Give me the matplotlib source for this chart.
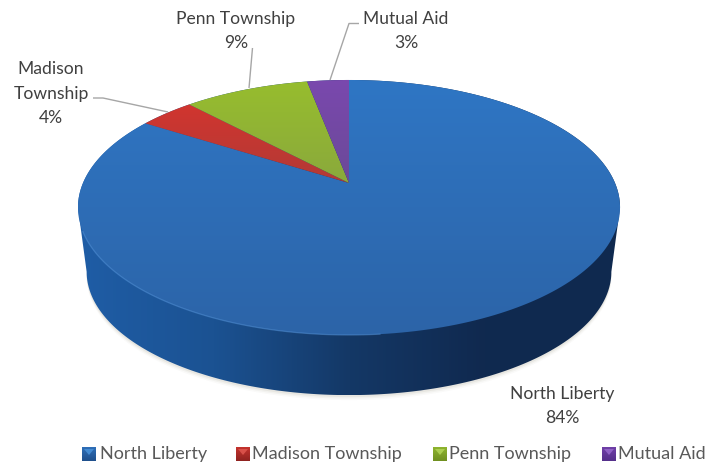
import numpy as np
import matplotlib
matplotlib.use("Agg")
import matplotlib.pyplot as plt
from matplotlib.colors import LinearSegmentedColormap
from matplotlib.patches import Polygon

categories = ["North Liberty", "Madison Township", "Penn Township", "Mutual Aid"]
shares = [84, 4, 9, 3]
percent_labels = ["84%", "4%", "9%", "3%"]
top_colors = [("#2f76c4", "#2c64a8"), ("#d1352f", "#b23a36"),
              ("#97bd2e", "#8aa93c"), ("#7a48ae", "#6b4a98")]
key_colors = [("#2f6fb8", "#1f4f8c"), ("#c5332e", "#8f2320"),
              ("#8fb52f", "#6f8f20"), ("#7040a8", "#55308a")]
key_glow = ["#4a94dc", "#e25a52", "#b6d85a", "#9a6cd0"]

plt.rcParams["font.family"] = ["Lato", "DejaVu Sans"]
text_color = "#404040"

fig = plt.figure(figsize=(7.06, 4.64), dpi=100)
ax = fig.add_axes([0, 0, 1, 1])
ax.set_xlim(0, 706)
ax.set_ylim(464, 0)
ax.axis("off")

# tilted disc: a circle seen in perspective, apex off the ellipse centre
cx, cy = 349, 184
half_w, half_h, tilt = 266, 122.8, 0.192
depth, shrink = 65, 0.968


def project(angle):
    # angle in radians, clockwise from 12 o'clock
    u, v = np.sin(angle), np.cos(angle)
    w = 1 + tilt * v
    return cx + half_w * u / w, cy - half_h * v / w


def lower(x, y):
    # same rim on the underside of the disc
    return cx + shrink * (x - cx), cy + depth + shrink * (y - cy)


def gradient_fill(verts, colors, horizontal=False, zorder=2):
    verts = np.asarray(verts)
    patch = Polygon(verts, closed=True, fc="none", ec="none", zorder=zorder)
    ax.add_patch(patch)
    cmap = LinearSegmentedColormap.from_list("fill", colors)
    ramp = np.linspace(0, 1, 256)
    ramp = ramp[None, :] if horizontal else ramp[:, None]
    x0, y0 = verts.min(axis=0)
    x1, y1 = verts.max(axis=0)
    img = ax.imshow(ramp, cmap=cmap, extent=(x0, x1, y1, y0), aspect="auto",
                    zorder=zorder, interpolation="bilinear")
    img.set_clip_path(patch)


# the rim is widest on screen a little below the horizontal
front = np.linspace(np.pi / 2 + np.arcsin(tilt), 3 * np.pi / 2 - np.arcsin(tilt), 200)
back = np.linspace(3 * np.pi / 2 - np.arcsin(tilt), 5 * np.pi / 2 + np.arcsin(tilt), 200)

fx, fy = lower(*project(front))
bx, by = project(back)
side = np.r_[np.c_[fx, fy], np.c_[bx, by]]

# faint shadow hugging the lower edge
for grow, alpha in [(5, 0.03), (3.5, 0.05), (2, 0.08)]:
    ax.add_patch(Polygon(np.c_[fx, fy + grow], closed=True, fc="#6b6040",
                         ec="none", alpha=alpha, zorder=1))

gradient_fill(side, ["#1f5da6", "#1b5292", "#143866", "#10294f", "#0f2a50"],
              horizontal=True, zorder=2)

# top faces, clockwise from 12 o'clock
edges = np.deg2rad(np.r_[0, np.cumsum(shares)] * 3.6)
for i, share in enumerate(shares):
    arc = np.linspace(edges[i], edges[i + 1], 240)
    px, py = project(arc)
    verts = np.r_[[[cx, cy]], np.c_[px, py]]
    gradient_fill(verts, top_colors[i], zorder=3)

# pale highlight along the front-left rim
rim = np.linspace(np.pi * 0.97, np.pi * 1.38, 80)
rx, ry = project(rim)
ax.plot(rx, ry, color="#5c9be0", lw=0.9, alpha=0.45, zorder=4)

leaders = {
    "Madison Township": ([168, 103, 93], [113, 99, 99]),
    "Penn Township": ([249, 252.5], [89, 49]),
    "Mutual Aid": ([330, 349, 359], [81, 24.5, 24.5]),
}
for xs, ys in leaders.values():
    ax.plot(xs, ys, color="#a6a6a6", lw=1.0, zorder=5, solid_capstyle="butt")

label_size = 12.6
label_spots = [(562, [394, 418]), (51, [69, 94, 118]), (236, [19, 43]), (406, [19, 43])]
label_lines = [
    [categories[0], percent_labels[0]],
    ["Madison", "Township", percent_labels[1]],
    [categories[2], percent_labels[2]],
    [categories[3], percent_labels[3]],
]
for (x, ys), lines in zip(label_spots, label_lines):
    for y, line in zip(ys, lines):
        ax.text(x, y, line, ha="center", va="center", fontsize=label_size,
                color=text_color, zorder=6)

# legend row: bevelled keys with a lighter wedge in the middle
key_x = [82, 236, 433, 602]
text_x = [99.5, 252, 449, 617.5]
for i, name in enumerate(categories):
    kx = key_x[i]
    gradient_fill([[kx, 448], [kx + 14, 448], [kx + 14, 462], [kx, 462]], key_colors[i], zorder=5)
    ax.add_patch(Polygon([[kx + 2, 450], [kx + 12, 450], [kx + 7, 456]], closed=True,
                         fc=key_glow[i], ec="none", alpha=0.8, zorder=6))
    ax.text(text_x[i], 454, name, ha="left", va="center", fontsize=13.0,
            color="#595959", zorder=6)

ax.set_xlim(0, 706)
ax.set_ylim(464, 0)
fig.savefig("out.png", dpi=100, facecolor="white")
